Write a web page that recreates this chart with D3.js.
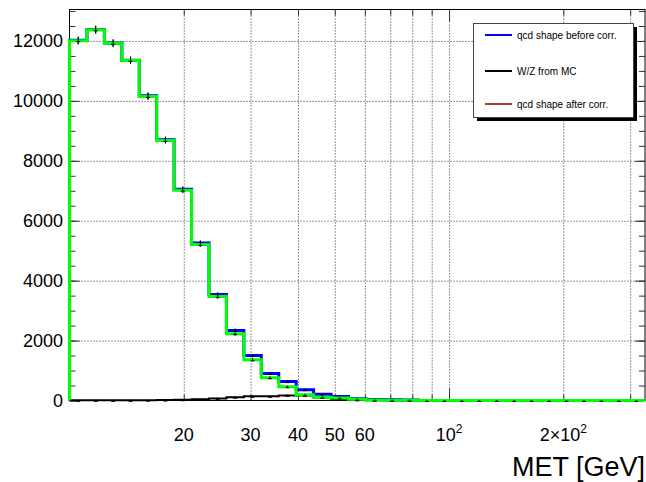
<!DOCTYPE html>
<html>
<head>
<meta charset="utf-8">
<script src="https://cdn.jsdelivr.net/npm/d3@7"></script>
<style>
  body { margin: 0; background: #fff; }
  text { font-family: "Liberation Sans", Arial, Helvetica, sans-serif; }
</style>
</head>
<body>
<svg id="chart" width="646" height="482"></svg>
<script>
// MET binning (log spaced), 33 bins
const binEdges = [10.0, 11.12, 12.36, 13.74, 15.27, 16.97, 18.86, 20.97, 23.31, 25.91, 28.8,
  32.01, 35.59, 39.56, 43.97, 48.88, 54.34, 60.4, 67.14, 74.64, 82.97, 92.23, 102.5, 114.0,
  126.7, 140.8, 156.5, 174.0, 193.4, 215.0, 239.0, 265.7, 295.3, 328.3];

// histogram contents
const qcdBefore = [12020, 12380, 11930, 11360, 10170, 8700, 7050, 5260, 3540, 2340, 1500, 900,
  630, 360, 210, 130, 60, 30, 25, 20, 0, 0, 0, 0, 0, 0, 0, 0, 0, 0, 0, 0, 0];
const wzMC = [5, 5, 5, 5, 10, 15, 25, 45, 70, 110, 140, 140, 170, 170, 100, 45, 20, 10, 5, 5,
  0, 0, 0, 0, 0, 0, 0, 0, 0, 0, 0, 0, 0];
const qcdAfter = [12010, 12370, 11920, 11350, 10150, 8680, 7020, 5210, 3470, 2230, 1360, 760,
  460, 190, 110, 85, 40, 15, 10, 10, 0, 0, 0, 0, 0, 0, 0, 0, 0, 0, 0, 0, 0];

const yMajor = [0, 2000, 4000, 6000, 8000, 10000, 12000];
const yMinor = d3.range(0, 13001, 500);
const xGrid = [20, 30, 40, 50, 60, 70, 80, 90, 100, 200, 300];
const xLabels = [20, 30, 40, 50, 60];

const legendNames = ["qcd shape before corr.", "W/Z from MC", "qcd shape after corr."];
const legendColors = ["#0000ff", "#000000", "#b03a3a"];

const svg = d3.select("#chart");
const L = 69.5, R = 645, T = 9.5, B = 400.5;

var x = d3.scaleLog().domain([10, 328.3]).range([L, R]);
var y = d3.scaleLinear().domain([0, 13050]).range([B, T]);

// grid
svg.append("g")
  .attr("transform", `translate(0,${B})`)
  .call(d3.axisBottom(x).tickValues(xGrid).tickSize(-(B - T)).tickFormat(""))
  .call(g => g.select(".domain").remove())
  .selectAll("line").attr("stroke", "#333").attr("stroke-dasharray", "1,2");
svg.append("g")
  .attr("transform", `translate(${L},0)`)
  .call(d3.axisLeft(y).tickValues(yMajor.slice(1)).tickSize(-(R - L)).tickFormat(""))
  .call(g => g.select(".domain").remove())
  .selectAll("line").attr("stroke", "#333").attr("stroke-dasharray", "1,2");

// ticks (inside the frame, mirrored on all sides)
function ticks(axis, tr) {
  svg.append("g").attr("transform", tr).call(axis)
    .call(g => g.select(".domain").remove())
    .call(g => g.selectAll("text").remove())
    .selectAll("line").attr("stroke", "#333");
}
ticks(d3.axisLeft(y).tickValues(yMajor).tickSize(-10), `translate(${L},0)`);
ticks(d3.axisLeft(y).tickValues(yMinor).tickSize(-6), `translate(${L},0)`);
ticks(d3.axisRight(y).tickValues(yMajor).tickSize(-10), `translate(${R},0)`);
ticks(d3.axisRight(y).tickValues(yMinor).tickSize(-6), `translate(${R},0)`);
ticks(d3.axisBottom(x).tickValues(xGrid.filter(v => v != 100)).tickSize(-6), `translate(0,${B})`);
ticks(d3.axisBottom(x).tickValues([100]).tickSize(-12), `translate(0,${B})`);
ticks(d3.axisTop(x).tickValues(xGrid.filter(v => v != 100)).tickSize(-6), `translate(0,${T})`);
ticks(d3.axisTop(x).tickValues([100]).tickSize(-12), `translate(0,${T})`);

// frame
svg.append("rect").attr("x", L).attr("y", T).attr("width", R - L).attr("height", B - T)
  .attr("fill", "none").attr("stroke", "#000").attr("stroke-width", 1);

// histograms
function histPath(vals) {
  const pts = [[binEdges[0], 0]];
  vals.forEach((v, i) => { pts.push([binEdges[i], v], [binEdges[i + 1], v]); });
  pts.push([binEdges[vals.length], 0]);
  return d3.line().x(d => x(d[0])).y(d => y(d[1]))(pts);
}
function drawHist(vals, color, w) {
  svg.append("path").attr("d", histPath(vals))
    .attr("fill", "none").attr("stroke", color).attr("stroke-width", w);
  const g = svg.append("g").attr("stroke", "#000").attr("stroke-width", 1);
  vals.forEach((v, i) => {
    const cx = x(Math.sqrt(binEdges[i] * binEdges[i + 1]));
    const e = Math.sqrt(v);
    g.append("line").attr("x1", cx).attr("x2", cx)
      .attr("y1", y(v - e) + 0.5).attr("y2", y(v + e) - 0.5);
    g.append("line").attr("x1", cx - 2).attr("x2", cx + 2)
      .attr("y1", y(v) + 1).attr("y2", y(v) + 1);
  });
}
drawHist(qcdBefore, "#0000ff", 3);
drawHist(wzMC, "#000000", 2);
drawHist(qcdAfter, "#00ff00", 3);

// axis labels
svg.append("g").selectAll("text").data(yMajor).join("text")
  .attr("x", 63).attr("y", d => y(d)).attr("dy", "0.36em")
  .attr("text-anchor", "end").attr("font-size", 18).attr("fill", "#000")
  .text(d => d);
svg.append("g").selectAll("text").data(xLabels).join("text")
  .attr("x", d => x(d)).attr("y", 441)
  .attr("text-anchor", "middle").attr("font-size", 18).attr("fill", "#000")
  .text(d => d);

const t100 = svg.append("text").attr("x", x(100)).attr("y", 441)
  .attr("text-anchor", "middle").attr("font-size", 18);
t100.append("tspan").text("10");
t100.append("tspan").attr("font-size", 12).attr("dy", -8).text("2");
const t200 = svg.append("text").attr("x", x(200)).attr("y", 441)
  .attr("text-anchor", "middle").attr("font-size", 18);
t200.append("tspan").text("2\u00d710");
t200.append("tspan").attr("font-size", 12).attr("dy", -8).text("2");

svg.append("text").attr("x", 645).attr("y", 476).attr("text-anchor", "end")
  .attr("font-size", 27).text("MET [GeV]");

// legend
svg.append("rect").attr("x", 477).attr("y", 27).attr("width", 160).attr("height", 94).attr("fill", "#000");
svg.append("rect").attr("x", 473.5).attr("y", 23.5).attr("width", 160).attr("height", 94)
  .attr("fill", "#fff").attr("stroke", "#444").attr("stroke-width", 1);
const legY = [35, 71, 104];
legendNames.forEach((n, i) => {
  svg.append("line").attr("x1", 485).attr("x2", 512).attr("y1", legY[i]).attr("y2", legY[i])
    .attr("stroke", legendColors[i]).attr("stroke-width", 2);
  svg.append("text").attr("x", 517).attr("y", legY[i] + 3.5).attr("font-size", 10).text(n);
});
</script>
</body>
</html>
